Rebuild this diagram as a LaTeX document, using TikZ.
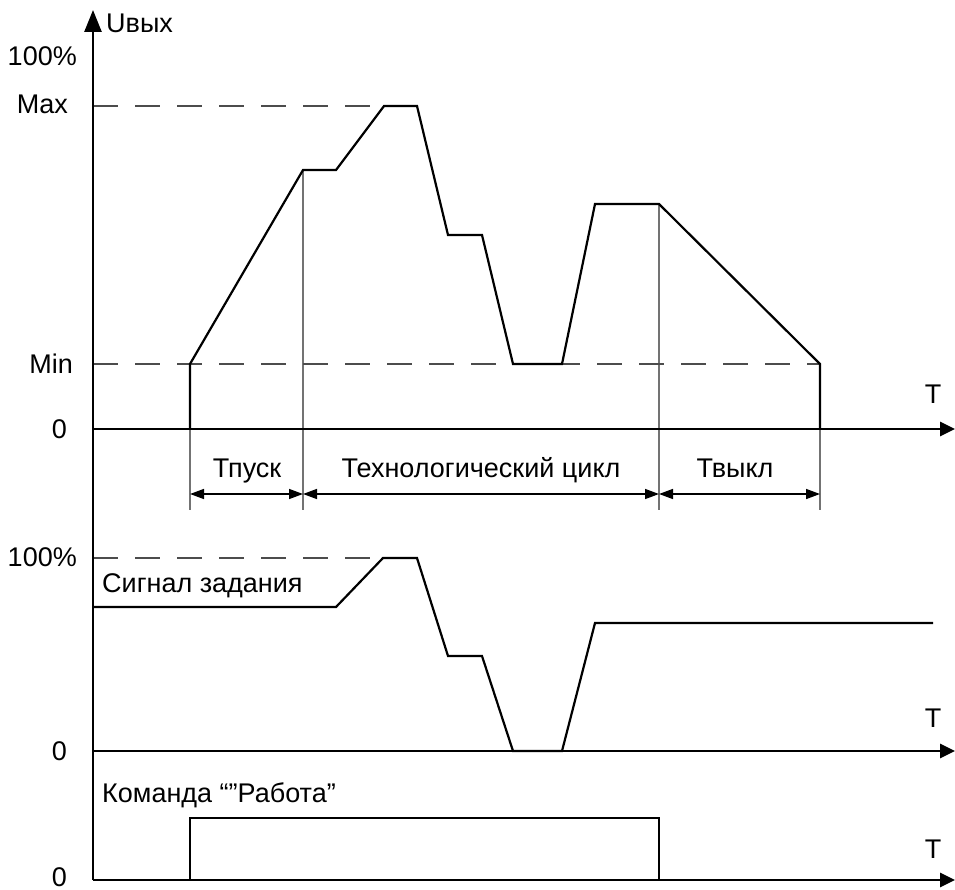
\documentclass[tikz,border=0pt]{standalone}
\usepackage{fontspec}
\setmainfont{Liberation Sans}
\usetikzlibrary{
arrows.meta,
positioning
}

\tikzset{
  taxis/.style={line width=2.6pt,-{Triangle[length=15pt,width=14pt]}},
  uaxis/.style={line width=2.6pt,-{Triangle[length=22pt,width=17pt]}},
  wave/.style={line width=2.2pt,line join=miter},
  vline/.style={line width=1.5pt,black!55},
  dashlvl/.style={line width=1.5pt,black!70,dash pattern=on 25pt off 17pt},
  dimarrow/.style={line width=1.5pt,{Triangle[length=14pt,width=10pt]}-{Triangle[length=14pt,width=10pt]}},
  lbl/.style={inner sep=0pt,font=\fontsize{27}{32}\selectfont}
}

\begin{document}
\begin{tikzpicture}[x=1pt,y=-1pt]
    \useasboundingbox (0,0) rectangle (955,890);

    % axes
    \coordinate (O) at (93,880);
    \coordinate (Utop) at (93,10);
    \coordinate (T1a) at (93,429);  \coordinate (T1b) at (955,429);
    \coordinate (T2a) at (93,751);  \coordinate (T2b) at (955,751);
    \coordinate (T3b) at (955,880);

    % output voltage
    \coordinate (A0) at (190,429);
    \coordinate (A1) at (190,364);
    \coordinate (A2) at (303,170);
    \coordinate (A3) at (336,170);
    \coordinate (A4) at (384,106);
    \coordinate (A5) at (417,106);
    \coordinate (A6) at (448,235);
    \coordinate (A7) at (482,235);
    \coordinate (A8) at (513,364);
    \coordinate (A9) at (562,364);
    \coordinate (A10) at (595,204);
    \coordinate (A11) at (659,204);
    \coordinate (A12) at (820,364);
    \coordinate (A13) at (820,429);

    % time marks
    \coordinate (D1) at (190,510);
    \coordinate (D2) at (303,510);
    \coordinate (D3) at (659,510);
    \coordinate (D4) at (820,510);
    \draw[vline] (A0) -- (D1);
    \draw[vline] (A2) -- (D2);
    \draw[vline] (A11) -- (D3);
    \draw[vline] (A13) -- (D4);
    \draw[dimarrow] (190,494) -- (303,494);
    \draw[dimarrow] (303,494) -- (659,494);
    \draw[dimarrow] (659,494) -- (820,494);

    % levels
    \draw[dashlvl] (93,106) -- (A4);
    \draw[dashlvl] (93,364) -- (A12);
    \draw[dashlvl] (93,558) -- (383,558);

    \draw[wave] (A0) -- (A1) -- (A2) -- (A3) -- (A4) -- (A5) -- (A6) -- (A7)
      -- (A8) -- (A9) -- (A10) -- (A11) -- (A12) -- (A13);

    % set point signal
    \draw[wave] (93,607) -- (336,607) -- (383,558) -- (417,558) -- (448,656)
      -- (482,656) -- (513,751) -- (562,751) -- (595,623) -- (933,623);

    % run command
    \draw[wave] (190,880) -- (190,818) -- (659,818) -- (659,880);

    \draw[taxis] (T1a) -- (T1b);
    \draw[taxis] (T2a) -- (T2b);
    \draw[taxis] (O) -- (T3b);
    \draw[uaxis] (O) -- (Utop);

    % labels
    \node[lbl,anchor=base west] (uout) at (106,33) {Uвых};
    \node[lbl,anchor=base east] (u100) at (77,66) {100\%};
    \node[lbl,anchor=base east] (umax) at (68,114) {Max};
    \node[lbl,anchor=base east] (umin) at (73,373) {Min};
    \node[lbl,anchor=base east] (u0) at (67,438) {0};
    \node[lbl,anchor=base] (t1) at (933,403) {T};
    \node[lbl,anchor=base] (tstart) at (247,477) {Тпуск};
    \node[lbl,anchor=base] (tcycle) at (481,477) {Технологический цикл};
    \node[lbl,anchor=base] (tstop) at (735,477) {Твыкл};

    \node[lbl,anchor=base east] (s100) at (77,566) {100\%};
    \node[lbl,anchor=base west] (sset) at (102,592) {Сигнал задания};
    \node[lbl,anchor=base east] (s0) at (67,760) {0};
    \node[lbl,anchor=base] (t2) at (933,727) {T};

    \node[lbl,anchor=base west] (crun) at (102,802) {Команда “”Работа”};
    \node[lbl,anchor=base east] (c0) at (67,886) {0};
    \node[lbl,anchor=base] (t3) at (933,858) {T};
\end{tikzpicture}
\end{document}
